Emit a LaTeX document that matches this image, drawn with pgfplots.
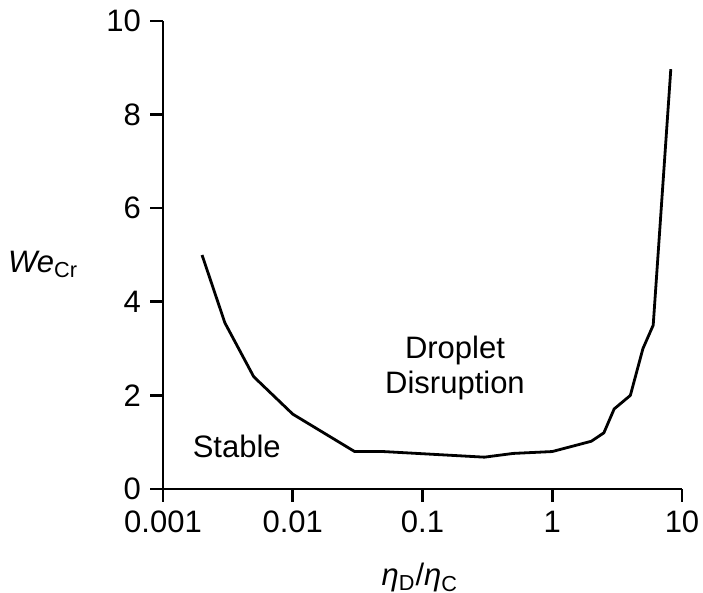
\documentclass[border=0pt]{standalone}
\usepackage{fontspec}
\setmainfont{Liberation Sans}
\usepackage{pgfplots}
\pgfplotsset{compat=1.18}
\newcommand{\fs}{\fontsize{15.5}{17.5}\selectfont}
\begin{document}
\begin{tikzpicture}
\path[use as bounding box] (-81.5pt,-52pt) rectangle (270pt,244.5pt);
\begin{axis}[
  scale only axis,
  width=259.5pt, height=234pt,
  xmode=log,
  xmin=0.001, xmax=10,
  ymin=0, ymax=10,
  axis x line*=bottom,
  axis y line*=left,
  axis line style={line width=1.3pt},
  tick style={line width=1.3pt, black},
  tick align=outside,
  major tick length=6.5pt,
  xminorticks=false,
  xtick={0.001,0.01,0.1,1,10},
  xticklabels={0.001,0.01,0.1,1,10},
  ytick={0,2,4,6,8,10},
  /pgf/number format/assume math mode=true,
  tick label style={font=\fs},
  xticklabel style={yshift=-1pt},
  yticklabel style={xshift=-1pt},
  every axis y label/.style={at={(axis description cs:-0.15,0.479)}, anchor=east, font=\fs},
  every axis x label/.style={at={(axis description cs:0.495,-0.19)}, anchor=center, font=\fs},
  ylabel={\textit{We}$_{\mathrm{Cr}}$},
  xlabel={\textit{η}$_{\mathrm{D}}$/\textit{η}$_{\mathrm{C}}$},
  clip=false,
]
\addplot[black, line width=1.4pt, line join=round] coordinates {
  (0.002,5.0) (0.003,3.55) (0.005,2.4) (0.01,1.6) (0.03,0.8) (0.05,0.8)
  (0.3,0.68) (0.5,0.76) (1,0.8) (2,1.02) (2.5,1.2) (3,1.71) (4,2.0)
  (5,3.0) (6,3.5) (8.2,8.97)
};
\node[font=\fs] at (axis cs:0.0037,0.9) {Stable};
\node[font=\fs, align=center] at (axis cs:0.178,2.58) {Droplet\\Disruption};
\end{axis}
\end{tikzpicture}
\end{document}
